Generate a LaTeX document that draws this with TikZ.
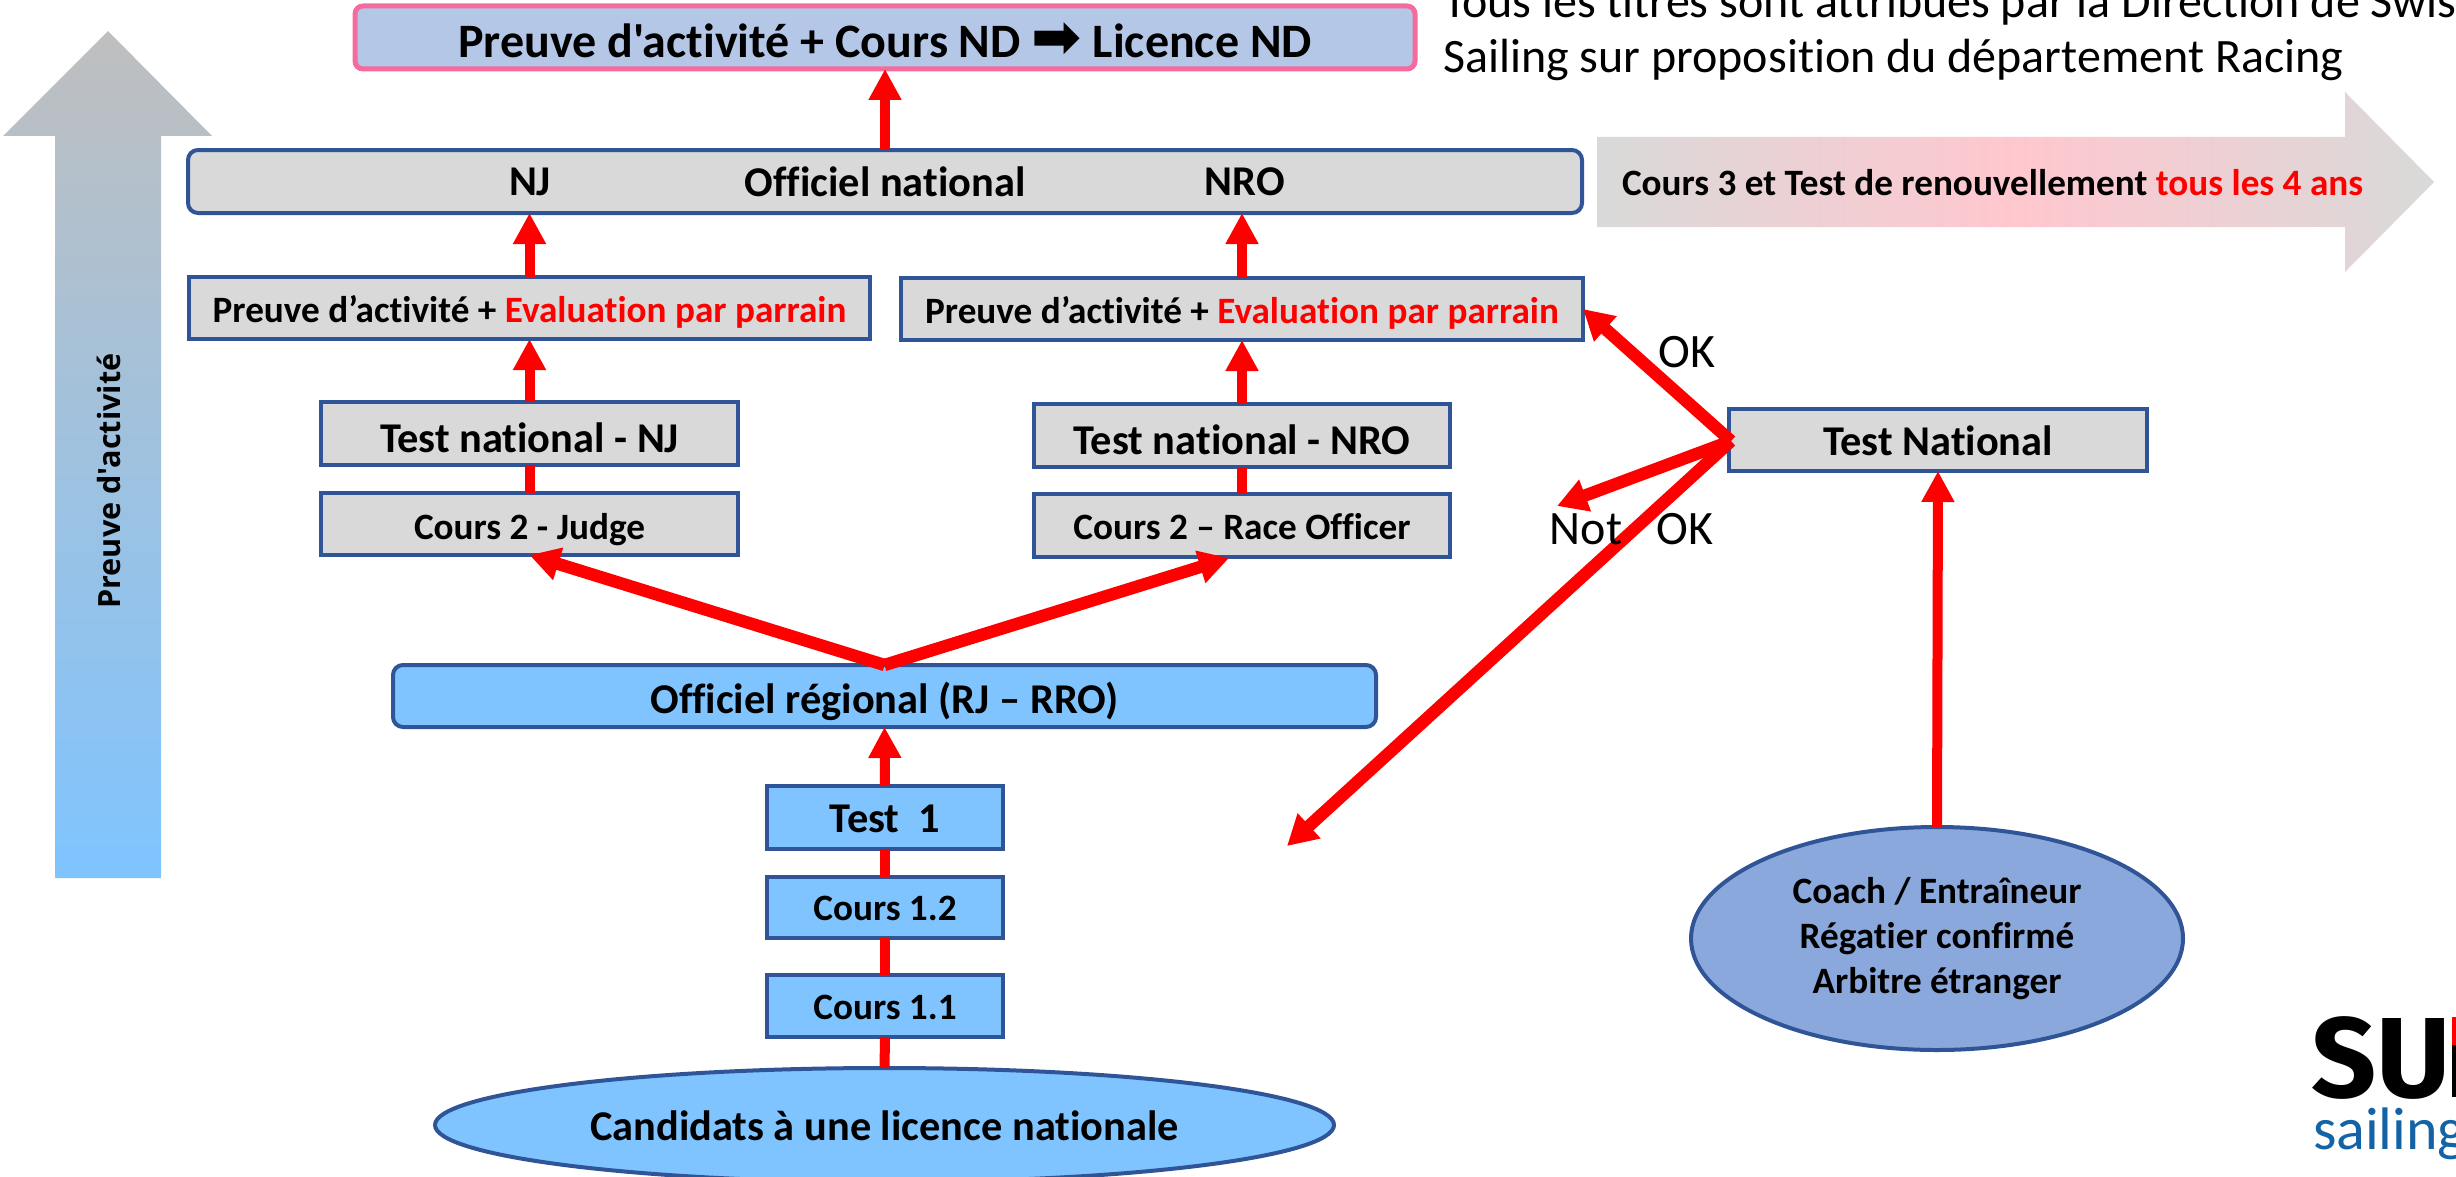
\documentclass[tikz,border=0pt]{standalone}
\usepackage{fontspec}
\setmainfont{Carlito}
\newfontfamily\calib{Carlito}[Ligatures=CommonOff]
\newfontfamily\dejavu{DejaVu Sans}
\newfontfamily\logofont{Fira Sans}
\newfontfamily\sidefont{Open Sans}
\usetikzlibrary{shapes.geometric,arrows.meta}
\definecolor{bord}{HTML}{2F5597}
\definecolor{greyfill}{HTML}{D9D9D9}
\definecolor{bluefill}{HTML}{7FC4FF}
\definecolor{topfill}{HTML}{B4C7E7}
\definecolor{pinkbord}{HTML}{F56BA0}
\definecolor{ellfill}{HTML}{8AA8DC}
\definecolor{logoblue}{HTML}{1463A5}
\definecolor{pinkmid}{HTML}{FFC7CE}
\definecolor{topgrey}{HTML}{BFBFBF}
\newcommand{\fs}[1]{\fontsize{#1pt}{1.2\dimexpr#1pt\relax}\selectfont}
\tikzset{
  box/.style={draw=bord,line width=2pt,inner sep=0pt,outer sep=0pt,align=center},
  greybox/.style={box,fill=greyfill},
  bluebox/.style={box,fill=bluefill},
  ell/.style={box,shape=ellipse},
  arr/.style={draw=red,line width=5pt,-{Triangle[length=15.5pt,width=15.5pt]}},
  diag/.style={draw=red,line width=6.2pt,-{Triangle[length=15pt,width=16pt]}},
  link/.style={draw=red,line width=5pt},
  plain/.style={inner sep=0pt,outer sep=0pt,text=black},
  big/.style={font=\calib\bfseries\fs{21.2}},
  small/.style={font=\calib\bfseries\fs{18.6}},
  note/.style={plain,font=\calib\fs{24}},
  lowered/.style={text depth=0.5pt,text height=#1}
}
\begin{document}
\begin{tikzpicture}[x=0.5pt,y=-0.5pt]
\useasboundingbox (0,0) rectangle (2456,1177);
\clip (0,0) rectangle (2456,1177);
% big arrows
\shade[top color=topgrey,bottom color=bluefill]
  (108,31) -- (212,136) -- (161,136) -- (161,878) -- (55,878) -- (55,136) -- (3,136) -- cycle;
\shade[left color=greyfill,right color=greyfill,middle color=pinkmid]
  (1597,137) -- (2345,137) -- (2345,92) -- (2434,182) -- (2345,272) -- (2345,227) -- (1597,227) -- cycle;
\node[plain,rotate=90,font=\sidefont\bfseries\fs{15.3}] (side) at (109,481) {Preuve d'activité};
\node[plain,small,anchor=west] (renew) at (1622,183) {Cours 3 et Test de renouvellement \textcolor{red}{tous les 4 ans}};
% top note
\node[note,anchor=west] (note1) at (1443,5) {Tous les titres sont attribués par la Direction de Swiss};
\node[note,anchor=west] (note2) at (1443,60) {Sailing sur proposition du département Racing};
% boxes
\node[box,draw=pinkbord,line width=2.5pt,fill=topfill,rounded corners=4pt,minimum width=530pt,minimum height=31.5pt,lowered=20.4pt,font=\calib\bfseries\fs{24}] (nd) at (885,37.5) {Preuve d'activité + Cours ND {\dejavu\fs{30}\smash{➡}} Licence ND};
\node[greybox,rounded corners=5pt,minimum width=697pt,minimum height=31.5pt] (nat) at (885,181.5) {};
\node[plain,big] (natnj) at (530,181.5) {NJ};
\node[plain,big] (natmid) at (885,181.5) {Officiel national};
\node[plain,big] (natnro) at (1245,181.5) {NRO};
\node[greybox,minimum width=340.5pt,minimum height=31pt,small,lowered=15.3pt] (pl) at (529.5,308) {Preuve d’activité + \textcolor{red}{Evaluation par parrain}};
\node[greybox,minimum width=341pt,minimum height=31pt,small,lowered=15.3pt] (pr) at (1242,309) {Preuve d’activité + \textcolor{red}{Evaluation par parrain}};
\node[greybox,minimum width=208.5pt,minimum height=31.5pt,big,lowered=19.2pt] (tnj) at (529.5,433.5) {Test national - NJ};
\node[greybox,minimum width=208pt,minimum height=31.5pt,big,lowered=19.2pt] (tnro) at (1242,435.5) {Test national - NRO};
\node[greybox,minimum width=208.5pt,minimum height=31pt,small,lowered=15.9pt] (cnj) at (529.5,524) {Cours 2 - Judge};
\node[greybox,minimum width=208pt,minimum height=31.5pt,small,lowered=14.5pt] (cnro) at (1242,525.5) {Cours 2 – Race Officer};
\node[bluebox,rounded corners=5pt,minimum width=491.5pt,minimum height=31pt,big,lowered=18.4pt] (reg) at (884.5,696) {Officiel régional (RJ – RRO)};
\node[bluebox,minimum width=118pt,minimum height=31.5pt,big,lowered=15.3pt] (t1) at (885,817.5) {Test\ \ 1};
\node[bluebox,minimum width=118pt,minimum height=30.5pt,small,lowered=13.7pt] (c12) at (885,907.5) {Cours 1.2};
\node[bluebox,minimum width=118pt,minimum height=31pt,small,lowered=13.7pt] (c11) at (885,1006) {Cours 1.1};
\node[ell,fill=bluefill,minimum width=449.5pt,minimum height=57pt,big,lowered=16.2pt] (cand) at (884.5,1125) {Candidats à une licence nationale};
\node[greybox,minimum width=209pt,minimum height=31pt,big,lowered=16.1pt] (tn) at (1938,440) {Test National};
\node[ell,fill=ellfill,minimum width=246pt,minimum height=111.5pt,small] (coach) at (1937,938.5) {Coach / Entraîneur\\Régatier confirmé\\Arbitre étranger};
% free ends
\coordinate (tipnok) at (1557,506);
\coordinate (tipback) at (1287,846);
\coordinate (tipcr) at (1229,558);
\coordinate (tnw) at (1731,441);
% connectors
\draw[arr] (nat.north -| nd.south) -- (nd.south);
\draw[arr] (pl.north) -- (pl.north |- nat.south);
\draw[arr] (pr.north) -- (pr.north |- nat.south);
\draw[arr] (tnj.north) -- (pl.south);
\draw[arr] (tnro.north) -- (pr.south);
\draw[link] (cnj.north) -- (tnj.south);
\draw[link] (cnro.north) -- (tnro.south);
\draw[diag] (reg.north) -- (cnj.south);
\draw[diag] (reg.north) -- (tipcr);
\draw[arr] (t1.north) -- (reg.south);
\draw[link] (c12.north) -- (t1.south);
\draw[link] (c11.north) -- (c12.south);
\draw[link] (cand.north) -- (c11.south);
\draw[arr] (coach.north) -- (tn.south);
\draw[diag] (tnw) -- (pr.east);
\draw[diag] (tnw) -- (tipnok);
\draw[diag] (tnw) -- (tipback);
% labels
\node[note] (ok1) at (1687,352) {OK};
\node[note] (nok) at (1586,529) {Not};
\node[note] (ok2) at (1685,529) {OK};
% logo
\node[plain,anchor=base west,font=\logofont\bfseries\fontsize{57pt}{60pt}\selectfont] (su) at (2311,1097) {SU};
\fill[black] (2452,1017) rectangle (2456,1097);
\fill[red] (2452,1017) rectangle (2456,1045);
\node[plain,anchor=base west,font=\calib\fs{30},text=logoblue] (sail) at (2313,1149) {sailing};
\end{tikzpicture}
\end{document}
